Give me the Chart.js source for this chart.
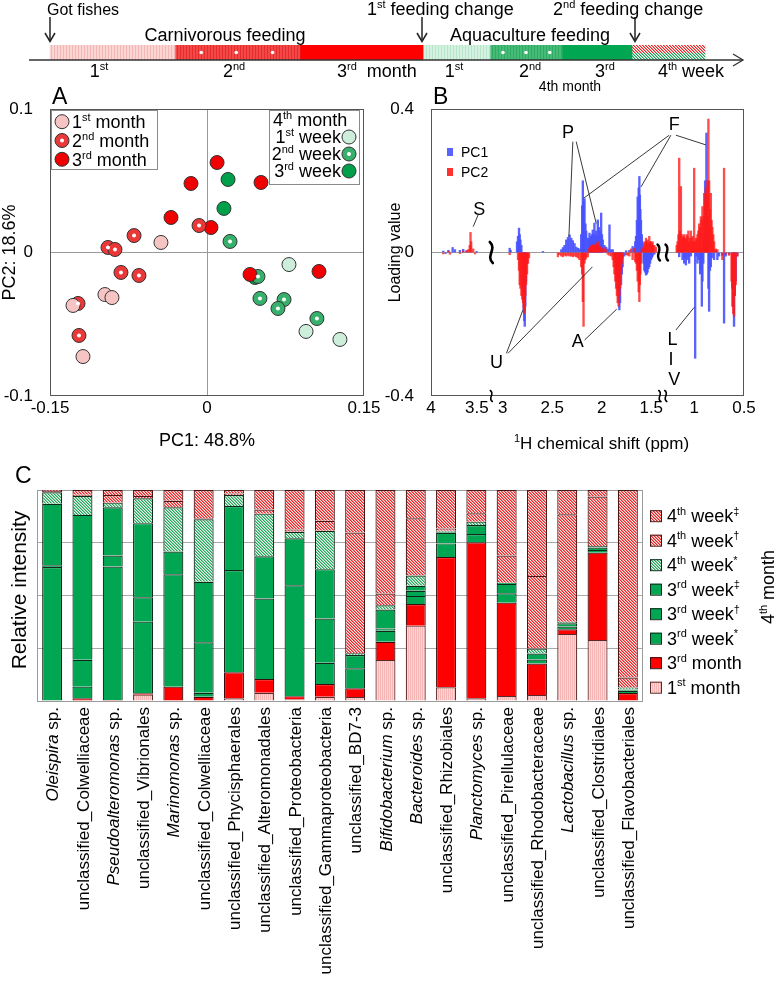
<!DOCTYPE html>
<html>
<head>
<meta charset="utf-8">
<title>Feeding change: PCA, loadings and microbiota</title>
<script src="https://cdn.jsdelivr.net/npm/chart.js@4.4.1/dist/chart.umd.min.js"></script>
<style>
html,body{margin:0;padding:0;background:#fff;}
#wrap{position:relative;width:780px;height:999px;overflow:hidden;background:#fff;}
#wrap canvas{position:absolute;}
</style>
</head>
<body>
<div id="wrap">
<canvas id="cT" width="780" height="100" style="left:0px;top:0px;"></canvas>
<canvas id="cA" width="400" height="400" style="left:0px;top:80px;"></canvas>
<canvas id="cB" width="400" height="400" style="left:380px;top:80px;"></canvas>
<canvas id="cC" width="780" height="544" style="left:0px;top:455px;"></canvas>
</div>
<script>
const FONT = '"Liberation Sans", Arial, Helvetica, sans-serif';
Chart.defaults.font.family = FONT;
Chart.defaults.color = '#000';
Chart.defaults.animation = false;
Chart.defaults.responsive = false;
Chart.defaults.devicePixelRatio = 1;
Chart.defaults.events = [];
Chart.defaults.plugins.legend.display = false;
Chart.defaults.plugins.tooltip.enabled = false;

// ================= DATA =================
// Timeline (segment lengths in months)
const timelineSegments = ['1st month','2nd month','3rd month','1st week','2nd week','3rd week','4th week'];
const timelineLengths = [1, 1, 0.984, 0.536, 0.576, 0.56, 0.584];

// Panel A: PCA scores [PC1, PC2]
const pcaMonth1 = [[-0.044,0.007],[-0.0975,-0.0293],[-0.0908,-0.0314],[-0.128,-0.0369],[-0.1185,-0.0725]];
const pcaMonth2 = [[-0.0076,0.0188],[-0.0697,0.0118],[-0.0946,0.0035],[-0.0879,0.0021],[-0.0822,-0.0139],[-0.065,-0.016],[-0.1232,-0.0355],[-0.1223,-0.0578]];
const pcaMonth3 = [[0.0096,0.0627],[-0.0153,0.0481],[0.0516,0.0488],[-0.0344,0.0244],[0.0038,0.0174],[0.107,-0.0132],[0.0411,-0.0153]];
const pcaWeek1 = [[0.0783,-0.0084],[0.0946,-0.055],[0.127,-0.0606]];
const pcaWeek2 = [[0.022,0.0077],[0.0487,-0.0167],[0.0506,-0.032],[0.0736,-0.0328],[0.0678,-0.039],[0.105,-0.046]];
const pcaWeek3 = [[0.0201,0.0509],[0.0162,0.0307],[0.0459,-0.0174]];

// Panel B: loadings [chemical shift ppm, loading]
const pc1Loadings = [
[3.866,0.004],[3.84,-0.003],[3.81,0.006],[3.764,0.014],[3.739,0.008],[3.685,0.006],[3.649,0.009],[3.612,0.005],[3.503,0.003],
[2.930,0.012],[2.921,0.006],[2.856,0.03],[2.846,0.045],[2.836,0.068],[2.829,0.05],[2.822,0.035],[2.812,0.02],[2.803,-0.03],[2.795,-0.1],[2.789,-0.16],[2.783,-0.19],[2.778,-0.206],[2.772,-0.15],[2.765,-0.08],[2.755,-0.03],
[2.594,0.003],[2.409,0.008],[2.392,0.014],[2.376,0.02],[2.359,0.035],[2.342,0.042],[2.325,0.049],[2.308,0.04],[2.292,0.033],[2.275,0.025],[2.258,0.015],[2.242,0.012],[2.225,0.01],
[2.208,0.05],[2.198,0.13],[2.191,0.2],[2.184,0.14],[2.174,0.15],[2.165,0.08],[2.157,0.06],[2.141,0.04],[2.132,0.035],[2.124,0.054],[2.115,0.04],[2.107,0.045],[2.099,0.05],[2.091,0.063],[2.083,0.05],[2.074,0.082],[2.065,0.05],[2.056,0.06],[2.048,0.045],[2.040,0.091],[2.030,0.07],[2.023,0.05],[2.016,0.06],[2.006,0.11],[1.998,0.05],[1.990,0.035],[1.973,0.02],[1.956,0.015],[1.939,0.01],[1.922,0.077],[1.905,0.008],[1.889,0.008],
[1.872,-0.01],[1.855,-0.03],[1.847,-0.06],[1.839,-0.08],[1.829,-0.13],[1.822,-0.16],[1.815,-0.14],[1.805,-0.09],[1.797,-0.06],[1.789,-0.04],[1.772,-0.01],[1.754,0.005],[1.721,0.006],
[1.688,0.017],[1.671,0.01],[1.662,0.03],[1.654,0.045],[1.645,0.09],[1.637,0.155],[1.627,0.18],[1.620,0.212],[1.615,0.16],[1.610,0.12],[1.604,0.09],[1.595,0.05],[1.587,0.03],
[1.578,-0.03],[1.570,-0.05],[1.562,-0.055],[1.553,-0.063],[1.545,-0.06],[1.537,-0.055],[1.528,-0.045],[1.520,-0.04],[1.511,-0.03],[1.503,-0.02],[1.494,-0.015],[1.486,-0.01],[1.469,-0.005],
[1.167,0.004],[1.150,-0.012],[1.133,0.005],[1.117,-0.02],[1.100,-0.03],[1.092,-0.015],[1.083,-0.035],[1.067,-0.02],[1.058,-0.01],[1.050,-0.03],[1.033,-0.01],[1.017,0.004],
[0.990,-0.295],[0.975,-0.01],[0.967,-0.03],[0.950,-0.02],[0.940,-0.06],[0.933,-0.05],[0.923,-0.15],[0.917,-0.08],[0.908,-0.03],[0.900,0.04],[0.890,0.2],[0.883,0.12],[0.877,0.333],[0.867,0.1],[0.857,-0.1],[0.850,-0.164],[0.842,-0.05],[0.833,-0.04],[0.817,-0.015],[0.800,-0.02],[0.783,0.006],[0.767,-0.02],[0.750,-0.01],[0.717,-0.008],[0.700,-0.197],[0.683,-0.01],[0.650,-0.005],[0.617,-0.1],[0.608,-0.15],[0.600,-0.206],[0.592,-0.12],[0.583,-0.08],[0.567,-0.01]
];
const pc2Loadings = [
[3.866,-0.004],[3.81,0.004],[3.793,-0.005],[3.685,-0.003],[3.649,0.004],[3.612,0.005],[3.594,0.008],[3.578,0.02],[3.569,0.056],[3.562,0.03],[3.54,0.01],[3.52,-0.004],
[2.930,-0.006],[2.846,-0.02],[2.836,-0.05],[2.829,-0.09],[2.822,-0.1],[2.812,-0.12],[2.803,-0.13],[2.795,-0.14],[2.789,-0.155],[2.783,-0.17],[2.778,-0.16],[2.772,-0.12],[2.765,-0.09],[2.755,-0.06],[2.745,-0.03],[2.735,-0.015],
[2.443,-0.012],[2.426,-0.006],[2.409,-0.01],[2.392,-0.012],[2.376,-0.008],[2.359,-0.01],[2.342,-0.008],[2.325,-0.01],[2.308,-0.01],[2.292,-0.012],[2.275,-0.01],[2.258,-0.012],[2.242,-0.015],[2.225,-0.02],[2.208,-0.04],[2.198,-0.06],[2.191,-0.137],[2.184,-0.206],[2.174,-0.03],[2.165,-0.02],[2.157,-0.015],[2.141,-0.012],
[2.132,0.008],[2.124,0.012],[2.115,0.015],[2.107,0.018],[2.099,0.02],[2.091,0.022],[2.083,0.018],[2.074,0.02],[2.065,0.022],[2.056,0.025],[2.048,0.02],[2.040,0.03],[2.030,0.02],[2.023,0.018],[2.016,0.015],[2.006,0.012],[1.990,0.01],[1.973,0.013],[1.956,0.008],
[1.939,-0.005],[1.922,-0.008],[1.905,-0.01],[1.889,-0.02],[1.880,-0.04],[1.872,-0.06],[1.863,-0.08],[1.855,-0.1],[1.847,-0.12],[1.839,-0.14],[1.829,-0.15],[1.822,-0.12],[1.815,-0.1],[1.805,-0.05],[1.797,-0.03],[1.789,-0.015],[1.754,-0.006],[1.738,-0.008],[1.721,-0.01],
[1.704,0.01],[1.688,-0.02],[1.671,0.012],[1.662,-0.025],[1.654,-0.03],[1.645,-0.05],[1.637,-0.08],[1.627,-0.11],[1.620,-0.137],[1.615,-0.09],[1.610,-0.06],[1.604,-0.03],
[1.595,0.01],[1.578,0.015],[1.570,0.025],[1.562,0.03],[1.553,0.04],[1.545,0.03],[1.537,0.035],[1.528,0.025],[1.520,0.045],[1.511,0.03],[1.503,0.03],[1.494,0.025],[1.486,0.03],[1.478,0.02],[1.469,0.02],[1.453,0.015],
[1.175,0.02],[1.167,0.03],[1.158,0.05],[1.150,0.263],[1.142,0.06],[1.133,0.184],[1.125,0.05],[1.117,0.04],[1.108,0.045],[1.100,0.05],[1.092,0.04],[1.083,0.035],[1.075,0.05],[1.067,0.045],[1.058,0.06],[1.050,0.03],[1.042,0.04],[1.033,0.06],[1.025,0.04],[1.017,0.045],[1.008,0.03],[1.000,0.235],
[0.992,0.03],[0.983,0.04],[0.975,0.035],[0.967,0.05],[0.958,0.06],[0.950,0.08],[0.942,0.07],[0.933,0.1],[0.925,0.09],[0.917,0.128],[0.908,0.1],[0.900,0.165],[0.890,0.14],[0.883,0.18],[0.877,0.16],[0.867,0.2],[0.857,0.372],[0.850,0.2],[0.842,0.12],[0.833,0.165],[0.825,0.09],[0.817,0.07],[0.808,0.05],[0.800,0.03],[0.783,0.01],[0.767,0.008],
[0.717,-0.02],[0.700,0.235],[0.683,-0.005],[0.650,-0.008],[0.625,-0.08],[0.617,-0.15],[0.608,-0.17],[0.600,-0.178],[0.592,-0.12],[0.583,-0.09],[0.567,-0.01]
];
const bTickShifts = [4, 3.5, 3, 2.5, 2, 1.5, 1, 0.5];

// Panel C: relative intensity (%) per taxon
const taxa = ['Oleispira sp.','unclassified_Colwelliaceae','Pseudoalteromonas sp.','unclassified_Vibrionales','Marinomonas sp.','unclassified_Colwelliaceae','unclassified_Phycisphaerales','unclassified_Alteromonadales','unclassified_Proteobacteria','unclassified_Gammaproteobacteria','unclassified_BD7-3','Bifidobacterium sp.','Bacteroides sp.','unclassified_Rhizobiales','Planctomyces sp.','unclassified_Pirellulaceae','unclassified_Rhodobacteraceae','Lactobacillus sp.','unclassified_Clostridiales','unclassified_Flavobacteriales'];
const stackLabels = ['1st month','3rd month','3rd week*','3rd week†','3rd week‡','4th week*','4th week†','4th week‡'];
const month1 = [0,0,0,3.0,0,0,1.3,3.9,0.7,2.0,1.9,19.4,35.7,6.5,1.3,2.4,2.8,31.8,28.9,0];
const month3 = [0,1.3,0.5,0.7,6.8,2.0,12.3,6.5,1.6,6.0,4.1,8.7,10.3,61.7,73.9,44.2,15.0,2.2,41.4,3.8];
const week3a = [63.5,5.5,63.2,33.9,53.3,1.9,48.5,38.2,52.5,10.1,9.5,5.2,3.8,6.5,3.9,4.5,1.9,1.3,1.3,1.0];
const week3b = [0.8,12.7,5.2,11.6,10.7,23.9,0,20.0,0,21.0,6.3,1.1,2.4,5.0,4.3,4.4,2.8,1.5,1.1,0.5];
const week3c = [29.2,68.7,22.9,35.1,0,28.7,30.3,0,22.3,23.4,0,9.0,2.4,0.5,0,0.5,0,0,0,0.3];
const week4a = [5.4,9.0,2.2,11.8,21.0,29.6,5.2,20.2,3.1,18.2,0.8,2.0,4.9,0.5,1.6,0,2.4,0.8,0.8,0.8];
const week4b = [0.6,0.5,3.6,1.1,3.1,0.5,0.8,1.9,1.1,4.7,57.2,5.5,27.1,1.1,4.0,12.9,34.4,50.9,23.4,4.7];
const week4c = [0.5,2.3,2.4,2.8,5.1,13.4,1.6,9.3,18.7,14.6,20.2,49.1,13.4,18.2,11.0,31.1,40.7,11.5,3.1,88.9];

// ================= HELPERS =================
function tilePattern(w,h,fn){
  const c=document.createElement('canvas'); c.width=w; c.height=h; const g=c.getContext('2d');
  for(let y=0;y<h;y++) for(let x=0;x<w;x++){ g.fillStyle=fn(x,y); g.fillRect(x,y,1,1); }
  return g.createPattern(c,'repeat');
}
const mod=(a,n)=>((a%n)+n)%n;
function supParts(s){
  const out=[]; const re=/(\d)(st|nd|rd|th)|([*†‡])/g; let last=0, m;
  while((m=re.exec(s))!==null){
    if(m[1]!==undefined){ out.push(s.slice(last,m.index)+m[1]); out.push({t:m[2],sup:true}); }
    else { if(m.index>last) out.push(s.slice(last,m.index)); out.push({t:m[3],sup:true}); }
    last=re.lastIndex;
  }
  if(last<s.length) out.push(s.slice(last));
  return out;
}
function rich(ctx, parts, x, y, o){
  o=o||{}; const size=o.size||17, align=o.align||'left';
  const segs=(typeof parts==='string'?[parts]:parts).map(p=>typeof p==='string'?{t:p}:Object.assign({},p));
  const f=s=>(s.it?'italic ':'')+(s.sup?Math.round(size*0.62):size)+'px '+FONT;
  let w=0; segs.forEach(s=>{ctx.font=f(s); s.w=ctx.measureText(s.t).width; w+=s.w;});
  let cx= align==='center'? x-w/2 : align==='right'? x-w : x;
  const base=y+size*0.36;
  ctx.textAlign='left'; ctx.textBaseline='alphabetic'; ctx.fillStyle=o.color||'#000';
  segs.forEach(s=>{ctx.font=f(s); ctx.fillText(s.t,cx,s.sup?base-size*0.4:base); cx+=s.w;});
  return w;
}
function rotRich(ctx, parts, x, y, o){ ctx.save(); ctx.translate(x,y); ctx.rotate(-Math.PI/2); rich(ctx, parts, 0, 0, o); ctx.restore(); }
function seg(ctx,x1,y1,x2,y2){ ctx.beginPath(); ctx.moveTo(x1,y1); ctx.lineTo(x2,y2); ctx.stroke(); }
const fmt = v => Math.abs(v)<1e-9 ? '0' : String(parseFloat(Number(v).toFixed(3)));
const zeroGrid = c => (c.tick && Math.abs(c.tick.value)<1e-9) ? '#9a9a9a' : 'rgba(0,0,0,0)';

// ================= TIMELINE =================
const tlFills = [
  tilePattern(3,1,x=>x===0?'#f5b6b6':'#fbd4d4'),
  tilePattern(3,1,x=>x===0?'#e82c2c':'#f24848'),
  '#ff0000',
  tilePattern(3,1,x=>x===0?'#b8e5ca':'#d5f1e1'),
  tilePattern(3,1,x=>x===0?'#2fab64':'#46bb78'),
  '#00a651',
  tilePattern(6,15,(x,y)=> y<8 ? ['#e02828','#f39090','#ffffff'][mod(x-y,3)] : ['#1f9e55','#8ad2a8','#ffffff'][mod(x-y,3)])
];
const timelinePlugin = {id:'timeline', afterDraw(chart){
  const ctx=chart.ctx, ca=chart.chartArea;
  const S=chart.data.datasets.map((d,i)=>{const e=chart.getDatasetMeta(i).data[0]; return {a:Math.min(e.base,e.x), b:Math.max(e.base,e.x), y:e.y};});
  ctx.save();
  ctx.fillStyle='#fff';
  [[1,[0.21,0.49,0.78]],[4,[0.18,0.5,0.83]]].forEach(([i,fr])=>fr.forEach(f=>{ctx.beginPath(); ctx.arc(S[i].a+f*(S[i].b-S[i].a),S[i].y,1.8,0,Math.PI*2); ctx.fill();}));
  ctx.strokeStyle='#333'; ctx.lineWidth=1.3;
  seg(ctx, ca.left, ca.bottom, ca.right, ca.bottom);
  ctx.beginPath(); ctx.moveTo(ca.right-10, ca.bottom-6); ctx.lineTo(ca.right, ca.bottom); ctx.lineTo(ca.right-10, ca.bottom+6); ctx.stroke();
  const arrow=x=>{ ctx.lineWidth=1.5; ctx.strokeStyle='#222'; seg(ctx,x,17,x,41); ctx.beginPath(); ctx.moveTo(x-5,33); ctx.lineTo(x,41.5); ctx.lineTo(x+5,33); ctx.stroke(); };
  arrow(S[0].a); arrow(S[3].a-1); arrow(S[6].a+3);
  rich(ctx,'Got fishes',S[0].a-3,9,{size:16});
  rich(ctx,'Carnivorous feeding',S[1].a+50,35,{size:18,align:'center'});
  rich(ctx,supParts('1st'),S[0].a+49,71,{size:18,align:'center'});
  rich(ctx,supParts('2nd'),S[1].a+59,71,{size:18,align:'center'});
  rich(ctx,supParts('3rd  month'),S[2].a+37,71,{size:18});
  rich(ctx,supParts('1st feeding change'),S[3].a-56,9,{size:18});
  rich(ctx,'Aquaculture feeding',S[4].a+40,35,{size:18,align:'center'});
  rich(ctx,supParts('2nd feeding change'),S[5].a-9,9,{size:18});
  rich(ctx,supParts('1st'),S[3].a+31,71,{size:18,align:'center'});
  rich(ctx,supParts('2nd'),S[4].a+40,71,{size:18,align:'center'});
  rich(ctx,supParts('3rd'),S[5].a+43,71,{size:18,align:'center'});
  rich(ctx,supParts('4th week'),S[6].a+59,71,{size:18,align:'center'});
  rich(ctx,'4th month',S[4].a+80,86,{size:14,align:'center'});
  ctx.restore();
}};
new Chart(document.getElementById('cT'), {
  type:'bar',
  data:{labels:['timeline'], datasets: timelineSegments.map((n,i)=>({label:n, data:[timelineLengths[i]], backgroundColor:tlFills[i], borderWidth:0, barPercentage:1, categoryPercentage:1}))},
  options:{indexAxis:'y', layout:{padding:{left:29,right:37,top:45,bottom:40}},
    scales:{x:{type:'linear', stacked:true, display:false, min:-0.168, max:5.544}, y:{stacked:true, display:false}}},
  plugins:[timelinePlugin]
});

// ================= PANEL A =================
const groupsA = [
  {label:'1st month', data:pcaMonth1, fill:'#f7c4c4', dot:false},
  {label:'2nd month', data:pcaMonth2, fill:'#ea3737', dot:true},
  {label:'3rd month', data:pcaMonth3, fill:'#f00000', dot:false},
  {label:'1st week', data:pcaWeek1, fill:'#cdeedb', dot:false},
  {label:'2nd week', data:pcaWeek2, fill:'#36b06a', dot:true},
  {label:'3rd week', data:pcaWeek3, fill:'#00a04b', dot:false}
];
function legendMarker(ctx,x,y,g){
  ctx.beginPath(); ctx.arc(x,y,7,0,Math.PI*2); ctx.fillStyle=g.fill; ctx.fill(); ctx.lineWidth=1; ctx.strokeStyle='#333'; ctx.stroke();
  if(g.dot){ ctx.beginPath(); ctx.arc(x,y,2,0,Math.PI*2); ctx.fillStyle='#fff'; ctx.fill(); }
}
const panelAPlugin = {id:'panelA',
  beforeDatasetsDraw(chart){
    const ctx=chart.ctx, ca=chart.chartArea;
    ctx.save(); ctx.strokeStyle='#555'; ctx.lineWidth=1; ctx.strokeRect(ca.left+0.5, ca.top+0.5, ca.width-1, ca.height-1); ctx.restore();
  },
  afterDatasetsDraw(chart){
    const ctx=chart.ctx; ctx.save(); ctx.fillStyle='#fff';
    chart.data.datasets.forEach((d,i)=>{ if(!d.whiteDot) return; chart.getDatasetMeta(i).data.forEach(p=>{ ctx.beginPath(); ctx.arc(p.x,p.y,2,0,Math.PI*2); ctx.fill(); }); });
    ctx.restore();
  },
  afterDraw(chart){
    const ctx=chart.ctx, ca=chart.chartArea;
    ctx.save();
    // left legend
    ctx.fillStyle='#fff'; ctx.fillRect(ca.left+1, ca.top+1, 106, 59);
    ctx.strokeStyle='#8a8a8a'; ctx.lineWidth=1; ctx.strokeRect(ca.left+1.5, ca.top+1.5, 106, 59);
    [0,1,2].forEach((gi,k)=>{ const y=ca.top+12.7+k*18.8; legendMarker(ctx, ca.left+12, y, groupsA[gi]); rich(ctx, supParts(groupsA[gi].label), ca.left+22, y, {size:18}); });
    // right legend
    ctx.fillStyle='#fff'; ctx.fillRect(ca.left+219, ca.top+1, 90, 74);
    ctx.strokeStyle='#8a8a8a'; ctx.strokeRect(ca.left+219.5, ca.top+1.5, 90, 74);
    rich(ctx, supParts('4th month'), ca.left+223, ca.top+11, {size:18});
    [3,4,5].forEach((gi,k)=>{ const y=ca.top+28+k*17; legendMarker(ctx, ca.left+299, y, groupsA[gi]); rich(ctx, supParts(groupsA[gi].label), ca.left+291, y, {size:18, align:'right'}); });
    // titles
    rich(ctx,'A',ca.left+2,16,{size:23});
    rich(ctx,'PC1: 48.8%',(ca.left+ca.right)/2,360,{size:18,align:'center'});
    rotRich(ctx,'PC2: 18.6%',9,(ca.top+ca.bottom)/2,{size:18,align:'center'});
    ctx.restore();
  }
};
new Chart(document.getElementById('cA'), {
  type:'scatter',
  data:{datasets: groupsA.map(g=>({label:g.label, data:g.data.map(([x,y])=>({x,y})), backgroundColor:g.fill, borderColor:'#333', borderWidth:1, pointRadius:7, pointHoverRadius:7, whiteDot:g.dot}))},
  options:{
    layout:{padding:{top:29,right:36,left:0,bottom:0}},
    scales:{
      x:{type:'linear', min:-0.15, max:0.15, ticks:{stepSize:0.15, font:{size:17}, padding:2, callback:fmt, maxRotation:0, autoSkip:false}, grid:{drawTicks:false, color:zeroGrid}, border:{display:false}, afterFit:s=>{s.height=84;}},
      y:{type:'linear', min:-0.1, max:0.1, ticks:{stepSize:0.1, font:{size:17}, padding:17, callback:fmt}, grid:{drawTicks:false, color:zeroGrid}, border:{display:false}, afterFit:s=>{s.width=50;}}
    }
  },
  plugins:[panelAPlugin]
});

// ================= PANEL B =================
// broken chemical-shift axis: [from ppm, to ppm, start position, px per ppm]
const shiftAxis = [[4,3.36,0,92],[3.1,1.4,62.07,99.3],[1.3,0.5,234,100]];
function shiftToPos(p){
  for(const [f,t,s,k] of shiftAxis){ if(p<=f+1e-9 && p>=t-1e-9) return s+(f-p)*k; }
  return p>3.2 ? 60.5 : 232.5;
}
const bNotes = [
  {t:'S', at:[3.475,0.123], lines:[[[3.486,0.105],[3.54,0.072]]]},
  {t:'P', at:[2.342,0.337], lines:[[[2.292,0.309],[2.332,0.044]],[[2.258,0.309],[2.056,0.081]]]},
  {t:'F', at:[1.2,0.36], lines:[[[1.25,0.327],[2.184,0.151]],[[1.233,0.327],[1.603,0.183]],[[1.183,0.327],[0.883,0.30]]]},
  {t:'U', at:[3.063,-0.304], lines:[[[2.963,-0.281],[2.796,-0.16]],[[2.947,-0.281],[2.094,-0.04]]]},
  {t:'A', at:[2.242,-0.246], lines:[[[2.174,-0.244],[1.849,-0.158]]]},
  {t:'L', at:[1.217,-0.239], lines:[[[1.183,-0.216],[1.0,-0.153]]]},
  {t:'I', at:[1.233,-0.295], lines:[]},
  {t:'V', at:[1.2,-0.351], lines:[]}
];
function wave(ctx,x,y,h,w,lw){
  ctx.save(); ctx.lineWidth=lw; ctx.strokeStyle='#000'; ctx.lineCap='round';
  ctx.beginPath(); ctx.moveTo(x-w*0.25,y-h/2); ctx.bezierCurveTo(x+w,y-h/6,x-w,y+h/6,x+w*0.25,y+h/2); ctx.stroke(); ctx.restore();
}
const PC1C='rgba(72,82,255,0.9)', PC2C='rgba(255,25,25,0.78)';
const panelBPlugin = {id:'panelB',
  beforeDatasetsDraw(chart){
    const ctx=chart.ctx, ca=chart.chartArea;
    ctx.save(); ctx.strokeStyle='#555'; ctx.lineWidth=1; ctx.strokeRect(ca.left+0.5, ca.top+0.5, ca.width-1, ca.height-1); ctx.restore();
  },
  afterDraw(chart){
    const ctx=chart.ctx, ca=chart.chartArea, xs=chart.scales.x, ys=chart.scales.y;
    const X=p=>xs.getPixelForValue(shiftToPos(p)), Y=v=>ys.getPixelForValue(v);
    ctx.save();
    const b1=xs.getPixelForValue(60.5), b2=xs.getPixelForValue(232.5), y0=Y(0);
    wave(ctx,b1,y0,21,6,2.6);
    wave(ctx,b2-4,y0,16,5,2.4); wave(ctx,b2+4,y0,16,5,2.4);
    wave(ctx,b1,ca.bottom,11,4,1.6);
    wave(ctx,b2-3,ca.bottom,11,4,1.6); wave(ctx,b2+3,ca.bottom,11,4,1.6);
    ctx.strokeStyle='#222'; ctx.lineWidth=0.9;
    bNotes.forEach(n=>{ n.lines.forEach(([a,b])=>seg(ctx,X(a[0]),Y(a[1]),X(b[0]),Y(b[1]))); rich(ctx,n.t,X(n.at[0]),Y(n.at[1]),{size:18,align:'center'}); });
    // legend
    ctx.fillStyle='#5a62ff'; ctx.fillRect(ca.left+16, ca.top+39, 6, 8);
    ctx.fillStyle='#ff3030'; ctx.fillRect(ca.left+16, ca.top+59, 6, 8);
    rich(ctx,'PC1',ca.left+30,ca.top+43,{size:14});
    rich(ctx,'PC2',ca.left+30,ca.top+63,{size:14});
    // titles
    rich(ctx,'B',ca.left+2,16,{size:23});
    rotRich(ctx,'Loading value',14,(ca.top+ca.bottom)/2,{size:16,align:'center'});
    rich(ctx,[{t:'1',sup:true},'H chemical shift (ppm)'],(ca.left+ca.right)/2+14,363,{size:17,align:'center'});
    ctx.restore();
  }
};
new Chart(document.getElementById('cB'), {
  type:'bar',
  data:{datasets:[
    {label:'PC1', data:pc1Loadings.map(([p,v])=>({x:shiftToPos(p), y:v})), backgroundColor:PC1C, borderWidth:0, barThickness:1.7, grouped:false, order:2},
    {label:'PC2', data:pc2Loadings.map(([p,v])=>({x:shiftToPos(p), y:v})), backgroundColor:PC2C, borderWidth:0, barThickness:1.7, grouped:false, order:1}
  ]},
  options:{
    layout:{padding:{top:29,right:36,left:0,bottom:0}},
    scales:{
      x:{type:'linear', min:0, max:314, offset:false,
         afterBuildTicks:s=>{ s.ticks = bTickShifts.map(p=>({value:shiftToPos(p)})); },
         ticks:{font:{size:17}, padding:2, autoSkip:false, maxRotation:0, callback:(v,i)=>String(bTickShifts[i])},
         grid:{display:false, drawTicks:false}, border:{display:false}, afterFit:s=>{s.height=84;}},
      y:{type:'linear', min:-0.4, max:0.4, ticks:{stepSize:0.4, font:{size:17}, padding:17, callback:fmt}, grid:{drawTicks:false, color:zeroGrid}, border:{display:false}, afterFit:s=>{s.width=51;}}
    }
  },
  plugins:[panelBPlugin]
});

// ================= PANEL C =================
const redHatch = tilePattern(3,3,(x,y)=>['#e32a2a','#f27a7a','#fde6e6'][mod(x-y,3)]);
const greenHatch = tilePattern(3,3,(x,y)=>['#23a45a','#86d0a4','#e6f6ec'][mod(x-y,3)]);
const pinkStripe = tilePattern(2,1,x=>x===0?'#f6b6b6':'#fcd6d6');
const stackSeries = [month1, month3, week3a, week3b, week3c, week4a, week4b, week4c];
const stackFill = [pinkStripe, '#ff0000', '#00a651', '#00a651', '#00a651', greenHatch, redHatch, redHatch];
const stackBorder = ['#5a2a2a','#3a0a0a','#10281a','#10281a','#10281a','#10281a','#4a1414','#4a1414'];
const panelCPlugin = {id:'panelC',
  beforeDatasetsDraw(chart){
    const ctx=chart.ctx, ca=chart.chartArea;
    ctx.save(); ctx.strokeStyle='#9a9a9a'; ctx.lineWidth=1; ctx.strokeRect(ca.left+0.5, ca.top+0.5, ca.width-1, ca.height); ctx.restore();
  },
  afterDraw(chart){
    const ctx=chart.ctx, ca=chart.chartArea, xs=chart.scales.x;
    ctx.save();
    chart.data.labels.forEach((lab,i)=>{
      const px=xs.getPixelForValue(i);
      const parts = lab.endsWith(' sp.') ? [{t:lab.slice(0,-4),it:true},' sp.'] : [lab];
      rotRich(ctx, parts, px, ca.bottom+6, {size:17, align:'right'});
    });
    // legend (top to bottom = top of stack first)
    for(let k=0;k<8;k++){
      const di=7-k, y=ca.top+25.7+k*24.5;
      const ds=chart.data.datasets[di];
      ctx.fillStyle=ds.backgroundColor; ctx.fillRect(650,y-5.5,11,11);
      ctx.strokeStyle=ds.borderColor; ctx.lineWidth=1; ctx.strokeRect(650.5,y-5,11,11);
      rich(ctx, supParts(ds.label), 667, y, {size:18});
    }
    rotRich(ctx, supParts('4th month'), 768, 132, {size:18, align:'center'});
    rotRich(ctx, 'Relative intensity', 18, 135, {size:21, align:'center'});
    rich(ctx, 'C', 15, 20, {size:23});
    ctx.restore();
  }
};
new Chart(document.getElementById('cC'), {
  type:'bar',
  data:{labels:taxa, datasets: stackLabels.map((lab,i)=>({label:lab, data:stackSeries[i], backgroundColor:stackFill[i], borderColor:stackBorder[i], borderWidth:1.2, barPercentage:0.66, categoryPercentage:1}))},
  options:{
    layout:{padding:{top:35,right:137,left:0,bottom:0}},
    scales:{
      x:{stacked:true, ticks:{display:false}, grid:{display:false, drawTicks:false}, border:{display:false}, afterFit:s=>{s.height=298;}},
      y:{stacked:true, min:0, max:100, ticks:{display:false, stepSize:25}, grid:{drawTicks:false, color:c=>(c.tick && c.tick.value>0 && c.tick.value<100)?'#aaaaaa':'rgba(0,0,0,0)'}, border:{display:false}, afterFit:s=>{s.width=37;}}
    }
  },
  plugins:[panelCPlugin]
});
</script>
</body>
</html>
